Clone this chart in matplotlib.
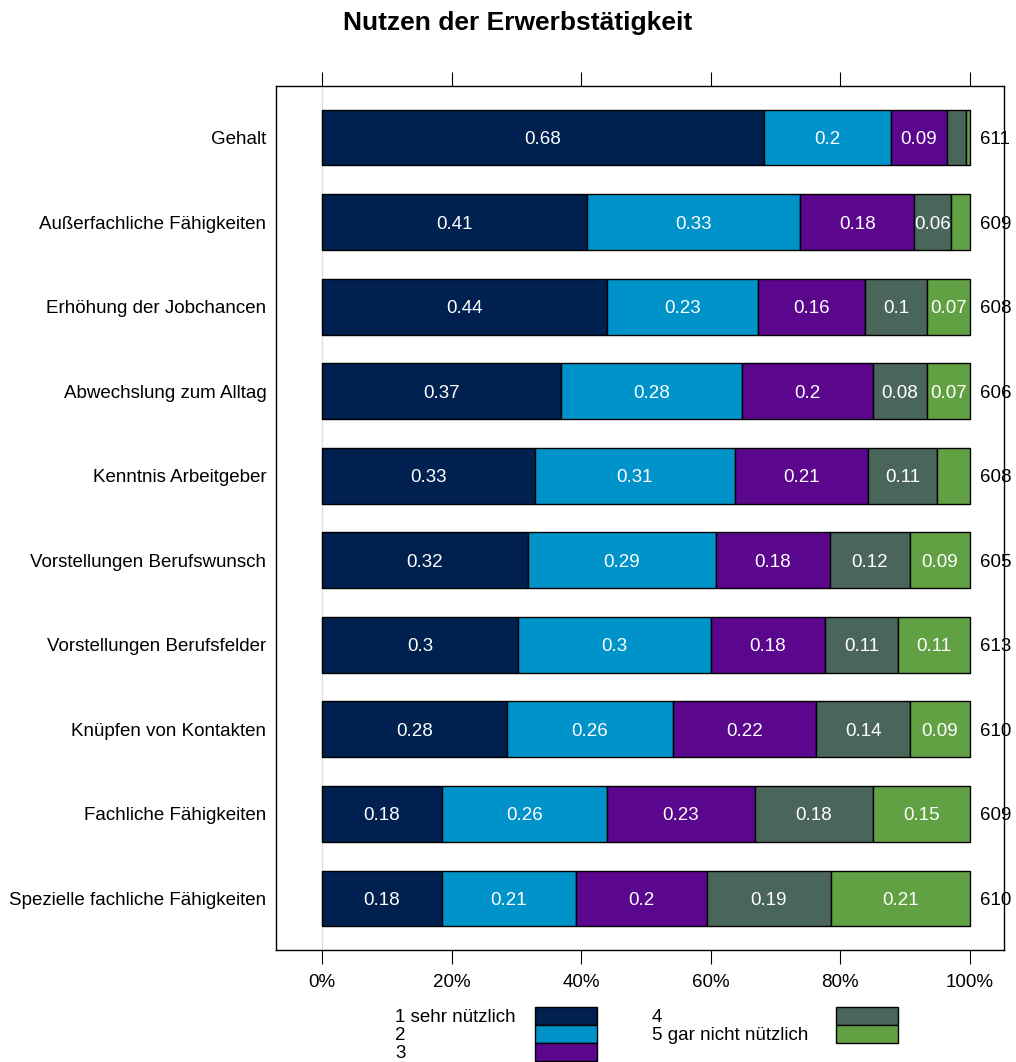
"""Stacked likert bars: Nutzen der Erwerbstätigkeit."""

import matplotlib.pyplot as plt
from matplotlib.patches import Rectangle
import numpy as np

plt.rcParams["font.family"] = ["Liberation Sans", "DejaVu Sans"]

items = [
    "Gehalt",
    "Außerfachliche Fähigkeiten",
    "Erhöhung der Jobchancen",
    "Abwechslung zum Alltag",
    "Kenntnis Arbeitgeber",
    "Vorstellungen Berufswunsch",
    "Vorstellungen Berufsfelder",
    "Knüpfen von Kontakten",
    "Fachliche Fähigkeiten",
    "Spezielle fachliche Fähigkeiten",
]
n_resp = [611, 609, 608, 606, 608, 605, 613, 610, 609, 610]

cat_labels = ["1 sehr nützlich", "2", "3", "4", "5 gar nicht nützlich"]
cat_colors = ["#00214F", "#0093C9", "#5A078E", "#4A665A", "#62A143"]

# shares per answer category (rows = items)
s1 = [0.682, 0.409, 0.441, 0.369, 0.329, 0.318, 0.302, 0.285, 0.185, 0.185]
s2 = [0.196, 0.330, 0.233, 0.279, 0.309, 0.290, 0.298, 0.256, 0.255, 0.206]
s3 = [0.086, 0.176, 0.165, 0.202, 0.206, 0.176, 0.176, 0.222, 0.228, 0.202]
s4 = [0.030, 0.057, 0.096, 0.083, 0.106, 0.123, 0.113, 0.144, 0.182, 0.192]
s5 = [0.006, 0.029, 0.066, 0.067, 0.051, 0.093, 0.111, 0.093, 0.150, 0.214]

shares = np.array([s1, s2, s3, s4, s5])

fig = plt.figure(figsize=(10.16, 10.62), dpi=100)
ax = fig.add_axes([276 / 1016, 1 - 950 / 1062, 728 / 1016, 864 / 1062])

ypos = np.arange(len(items))
ax.axvline(0, color="#e0e0e0", lw=1, zorder=0)

# bars are drawn on the normalised shares so every row ends at 100%
widths = shares / shares.sum(axis=0)
left = np.zeros(len(items))
for k in range(5):
    vals = widths[k]
    ax.barh(ypos, vals, left=left, height=0.66, color=cat_colors[k],
            edgecolor="black", linewidth=1, zorder=2)
    for i, v in enumerate(shares[k]):
        if v >= 0.055:
            ax.text(left[i] + vals[i] / 2, ypos[i], f"{round(v, 2):g}",
                    ha="center", va="center_baseline", color="white",
                    fontsize=13.5, zorder=3)
    left += vals

for i, n in enumerate(n_resp):
    ax.text(1.016, ypos[i], str(n), ha="left", va="center_baseline",
            fontsize=13.5)

ax.set_xlim(-0.071, 1.0525)
ax.set_ylim(9.61, -0.61)
ax.set_xticks([0, 0.2, 0.4, 0.6, 0.8, 1.0])
ax.set_xticklabels(["0%", "20%", "40%", "60%", "80%", "100%"])
ax.tick_params(axis="x", direction="out", length=10, top=True, labeltop=False,
               labelsize=13.5, pad=7)
ax.set_yticks(ypos)
ax.set_yticklabels(items, va="center_baseline")
ax.tick_params(axis="y", length=0, labelsize=13.5, pad=7)
for sp in ax.spines.values():
    sp.set_linewidth(1)

fig.text(518 / 1016, 1 - 23 / 1062, "Nutzen der Erwerbstätigkeit",
         ha="center", va="center", fontsize=19, fontweight="bold")

# legend drawn by hand, two columns (text left, box right)
box_w, box_h = 62, 18
cols = [(395, 535, [0, 1, 2]), (652, 836, [3, 4])]
for tx, bx, ks in cols:
    for r, k in enumerate(ks):
        top = 1007 + r * box_h
        fig.patches.append(Rectangle(
            (bx / 1016, 1 - (top + box_h) / 1062), box_w / 1016, box_h / 1062,
            transform=fig.transFigure, facecolor=cat_colors[k],
            edgecolor="black", linewidth=1))
        fig.text(tx / 1016, 1 - (top + 10) / 1062, cat_labels[k],
                 ha="left", va="center", fontsize=13.5)

fig.savefig("out.png", dpi=100)
plt.close(fig)
